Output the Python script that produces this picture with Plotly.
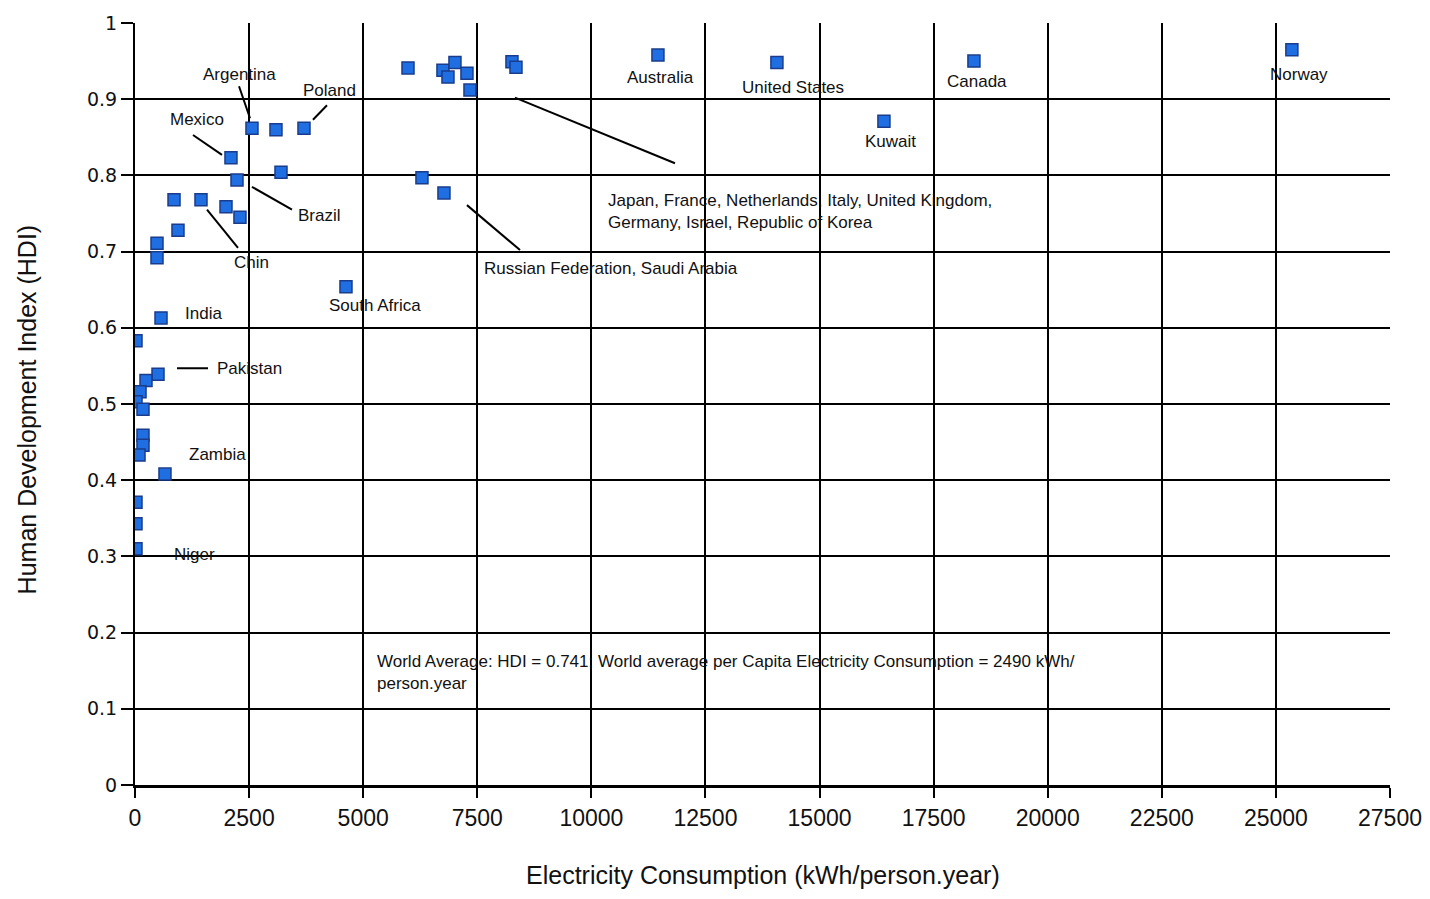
import plotly.graph_objects as go

# Data: electricity consumption (kWh/person.year) vs HDI
consumption = [
    2563, 3089, 3703, 2103, 3199, 2235, 855, 1446, 1994, 2300, 942, 482, 482, 4623,
    570, 22, 504, 241, 110, 22, 175, 175, 175, 88, 657, 22, 22, 22,
    5982, 6748, 7011, 6858, 7274, 7340, 8260, 8348, 6288, 6770,
    11459, 14066, 16411, 18383, 25350,
]
hdi = [
    0.862, 0.860, 0.862, 0.823, 0.804, 0.794, 0.768, 0.768, 0.759, 0.745, 0.728, 0.711, 0.692, 0.654,
    0.613, 0.583, 0.539, 0.531, 0.516, 0.503, 0.493, 0.459, 0.446, 0.433, 0.408, 0.371, 0.343, 0.310,
    0.941, 0.938, 0.948, 0.929, 0.934, 0.912, 0.949, 0.942, 0.797, 0.777,
    0.958, 0.948, 0.871, 0.950, 0.965,
]

x_ticks = [0, 2500, 5000, 7500, 10000, 12500, 15000, 17500, 20000, 22500, 25000, 27500]
y_ticks = [0, 0.1, 0.2, 0.3, 0.4, 0.5, 0.6, 0.7, 0.8, 0.9, 1]
y_tick_text = ["0", "0.1", "0.2", "0.3", "0.4", "0.5", "0.6", "0.7", "0.8", "0.9", "1"]

x_title = "Electricity Consumption (kWh/person.year)"
y_title = "Human Development Index (HDI)"

label_texts = [
    "Argentina", "Poland", "Mexico", "Brazil", "Chin", "India", "Pakistan", "Zambia", "Niger",
    "South Africa", "Australia", "United States", "Kuwait", "Canada", "Norway",
]
label_x = [2300, 4272, 1358, 4032, 2563, 1490, 2498, 1797, 1293, 5259, 11525, 14417, 16564, 18449, 25504]
label_y = [0.933, 0.912, 0.874, 0.747, 0.686, 0.619, 0.547, 0.434, 0.303, 0.629, 0.929, 0.916, 0.845, 0.923, 0.933]

group_texts = [
    "Russian Federation, Saudi Arabia",
    "Japan, France, Netherlands, Italy, United Kingdom,<br>Germany, Israel, Republic of Korea",
    "World Average: HDI = 0.741; World average per Capita Electricity Consumption = 2490 kWh/<br>person.year",
]
group_x = [7603, 10320, 5259]
group_y = [0.678, 0.752, 0.148]

# leader lines (x0, y0, x1, y1)
leaders = [
    (2279, 0.917, 2520, 0.875),
    (4207, 0.892, 3900, 0.873),
    (1271, 0.853, 1906, 0.827),
    (2563, 0.785, 3440, 0.755),
    (1578, 0.755, 2257, 0.705),
    (920, 0.547, 1600, 0.547),
    (7274, 0.761, 8436, 0.702),
    (8326, 0.902, 11832, 0.816),
]

TEXT_FONT = dict(family="Liberation Sans, Arial, sans-serif", size=17, color="#111")
TITLE_FONT = dict(family="Liberation Sans, Arial, sans-serif", size=25, color="#111")

fig = go.Figure()
fig.add_trace(go.Scatter(
    x=consumption, y=hdi, mode="markers",
    marker=dict(symbol="square", size=12, color="#1f6fe3",
                line=dict(color="#1a3c8c", width=1.5)),
    showlegend=False, hoverinfo="x+y",
))

annotations = []
for t, x, y in zip(label_texts, label_x, label_y):
    annotations.append(dict(x=x, y=y, text=t, showarrow=False, font=TEXT_FONT,
                            xanchor="center", yanchor="middle"))
for t, x, y in zip(group_texts, group_x, group_y):
    annotations.append(dict(x=x, y=y, text=t, showarrow=False, font=TEXT_FONT,
                            xanchor="left", yanchor="middle", align="left"))

# axis titles
annotations.append(dict(x=0.5, y=-0.118, xref="paper", yref="paper", yanchor="middle",
                        text=x_title, showarrow=False, font=TITLE_FONT))
annotations.append(dict(x=-0.086, y=0.493, xref="paper", yref="paper", xanchor="center",
                        yanchor="middle", textangle=-90,
                        text=y_title, showarrow=False, font=TITLE_FONT))

shapes = []
for x0, y0, x1, y1 in leaders:
    shapes.append(dict(type="line", x0=x0, y0=y0, x1=x1, y1=y1, xref="x", yref="y",
                       line=dict(color="black", width=2)))

fig.update_layout(
    width=1422, height=891,
    margin=dict(l=127, r=40, t=15, b=114),
    paper_bgcolor="white", plot_bgcolor="white",
    annotations=annotations, shapes=shapes,
    xaxis=dict(
        range=[0, 27500], tickvals=x_ticks, ticktext=[str(v) for v in x_ticks],
        showgrid=True, gridcolor="black", gridwidth=2,
        showline=True, linecolor="black", linewidth=3,
        ticks="outside", ticklen=10, tickwidth=2, tickcolor="black",
        tickfont=dict(family="Liberation Sans, Arial, sans-serif", size=23, color="#111"),
        zeroline=False, automargin=False,
    ),
    yaxis=dict(
        range=[0, 1], tickvals=y_ticks, ticktext=y_tick_text,
        showgrid=True, gridcolor="black", gridwidth=2,
        showline=True, linecolor="black", linewidth=2,
        ticks="outside", ticklen=12, tickwidth=2, tickcolor="black",
        tickfont=dict(family="DejaVu Sans, Verdana, sans-serif", size=19, color="#111"),
        zeroline=False, automargin=False,
    ),
)

fig.write_html("out.html")
